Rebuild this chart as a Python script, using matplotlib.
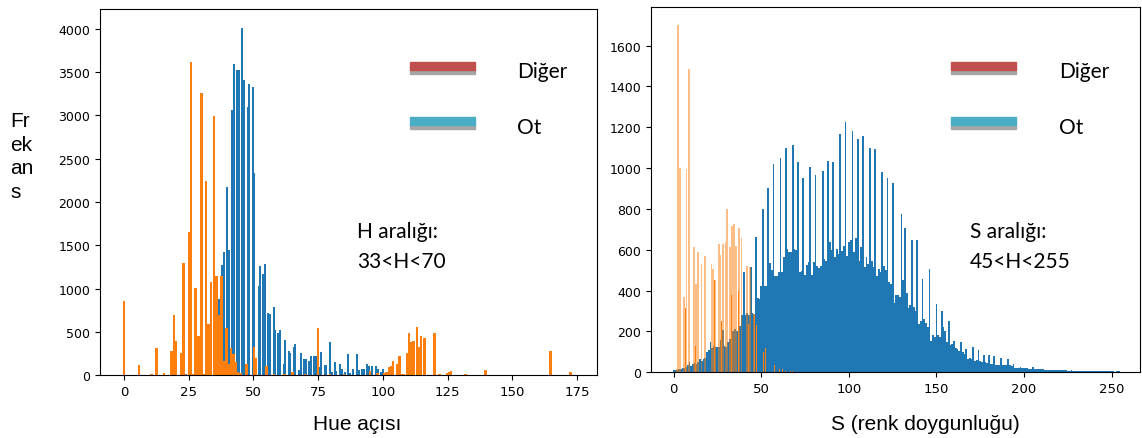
import matplotlib
matplotlib.use("Agg")
import matplotlib.pyplot as plt
from matplotlib.patches import Rectangle

matplotlib.rcParams.update({
    "font.family": "DejaVu Sans",
    "xtick.labelsize": 9.5,
    "ytick.labelsize": 9,
})

BLUE = "#1f77b4"
ORANGE = "#ff7f0e"

# --- left panel: hue histogram (Ot = blue, Diger = orange)
hue_ot_pos = [24.0, 36.6, 38.0, 38.5, 39.9, 40.5, 41.8, 42.5, 43.8, 44.4, 45.7, 46.3,
              47.9, 48.5, 49.8, 50.4, 52.0, 52.6, 53.9, 54.5, 55.8, 56.4, 57.8, 58.4,
              59.7, 60.3, 61.7, 62.4, 63.7, 64.3, 65.6, 66.2, 67.6, 68.4, 69.6, 70.2,
              71.6, 72.2, 73.5, 74.2, 75.6, 76.2, 77.5, 78.2, 79.5, 80.2, 81.5, 82.1,
              83.5, 84.1, 85.4, 86.7, 87.3, 88.4, 90.0, 90.6, 91.8, 92.7, 94.0, 94.6,
              96.0, 97.5, 98.1, 99.2, 100.0, 102.3, 103.0]
hue_ot_cnt = [15, 880, 1270, 1420, 2170, 1450, 3060, 3600, 3530, 3530, 4010, 3410,
              3100, 3360, 3330, 2340, 1030, 1260, 1170, 1280, 720, 710, 790, 520,
              485, 525, 130, 410, 280, 255, 320, 360, 60, 260, 185, 185,
              165, 225, 225, 225, 90, 270, 110, 115, 380, 30, 145, 50,
              125, 70, 30, 245, 20, 70, 245, 60, 70, 70, 125, 100,
              100, 100, 70, 30, 70, 70, 100]

hue_diger_pos = [0.0, 5.8, 10.7, 12.6, 15.4, 18.4, 19.3, 20.0, 22.0, 23.0, 23.7, 25.2,
                 25.9, 26.8, 27.7, 28.9, 29.9, 30.8, 31.8, 32.7, 33.7, 34.8, 35.7, 36.8,
                 37.7, 38.6, 39.6, 40.5, 41.4, 42.3, 43.2, 44.1, 45.0, 47.3, 50.2, 51.1,
                 55.0, 58.0, 62.0, 65.1, 70.0, 74.9, 79.5, 85.0, 95.0, 98.0, 100.5, 101.5,
                 102.4, 103.2, 103.9, 105.4, 106.4, 107.2, 108.2, 109.4, 110.1, 110.9, 111.9, 113.1,
                 114.0, 114.7, 116.0, 119.9, 121.8, 124.7, 125.5, 126.3, 132.0, 139.7, 164.7, 172.4]
hue_diger_cnt = [860, 120, 15, 310, 25, 280, 690, 390, 250, 1300, 15, 1650,
                 3615, 15, 1010, 455, 3255, 15, 2240, 590, 1080, 2990, 1150, 690,
                 1150, 160, 540, 130, 310, 245, 145, 40, 25, 127, 320, 195,
                 100, 10, 10, 30, 10, 540, 15, 10, 50, 20, 20, 40,
                 90, 100, 165, 127, 216, 15, 15, 254, 482, 378, 397, 559,
                 320, 455, 424, 482, 15, 25, 35, 45, 15, 60, 281, 40]

# --- right panel: saturation histogram, Ot counts for S = 0..255
sat_ot_cnt = [
    10, 10, 12, 13, 15, 20, 20, 25, 35, 49, 30, 40, 45, 41, 50, 62,
    55, 65, 70, 101, 110, 147, 120, 130, 125, 122, 122, 160, 209, 130, 122, 150,
    163, 188, 200, 212, 204, 215, 228, 280, 490, 278, 290, 280, 514, 290, 286, 661,
    362, 360, 420, 800, 424, 420, 903, 534, 500, 1020, 473, 469, 490, 1050, 490, 563,
    1099, 604, 588, 590, 1115, 604, 600, 1029, 493, 498, 952, 478, 527, 539, 1004, 478,
    539, 968, 522, 508, 522, 988, 555, 545, 1035, 640, 600, 1029, 563, 604, 580, 1168,
    596, 620, 1228, 568, 637, 648, 1184, 588, 656, 1143, 547, 612, 1159, 514, 563, 530,
    1097, 547, 514, 1094, 473, 506, 490, 980, 522, 500, 950, 444, 430, 928, 340, 376,
    380, 370, 776, 454, 708, 387, 313, 330, 650, 318, 300, 650, 237, 250, 457, 261,
    240, 220, 506, 155, 180, 170, 335, 180, 170, 302, 220, 200, 150, 253, 131, 140,
    155, 118, 115, 105, 147, 98, 90, 114, 62, 70, 65, 122, 57, 60, 111, 55,
    52, 85, 49, 45, 82, 41, 40, 78, 33, 35, 34, 69, 36, 35, 33, 65,
    33, 30, 41, 20, 22, 20, 24, 20, 20, 18, 18, 17, 16, 24, 15, 14,
    15, 13, 13, 13, 12, 12, 12, 11, 11, 12, 10, 10, 10, 9, 10, 9,
    9, 8, 8, 9, 8, 8, 7, 8, 8, 7, 7, 8, 7, 6, 7, 6,
    6, 6, 5, 6, 5, 5, 5, 4, 5, 4, 4, 4, 3, 4, 5, 3,
]

sat_diger_pos = [1.9, 2.5, 3.4, 5.7, 7.3, 8.7, 11.5, 12.6, 13.8, 15.9, 17.7, 21.5,
                 22.5, 23.4, 25.7, 26.7, 28.2, 29.5, 30.4, 32.0, 33.3, 34.4, 35.7, 37.3,
                 38.6, 41.8, 43.7, 46.0]
sat_diger_cnt = [16, 1700, 1000, 370, 995, 1485, 615, 430, 590, 530, 570, 530,
                 505, 450, 630, 575, 630, 640, 800, 615, 715, 725, 620, 705,
                 655, 520, 515, 286]

# thin fully saturated orange bars
sat_diger2_pos = [6.7, 12.2, 23.4, 27.4, 33.0, 36.8, 41.8, 42.9, 46.2, 47.5, 48.7, 51.5,
                  52.5, 56.7, 57.6, 59.5, 60.5, 62.0, 64.0, 66.5, 68.0]
sat_diger2_cnt = [313, 130, 450, 250, 380, 400, 522, 237, 286, 232, 200, 98,
                  118, 46, 33, 16, 16, 13, 8, 8, 8]

hue_ticks = [0, 25, 50, 75, 100, 125, 150, 175]
hue_yticks = [0, 500, 1000, 1500, 2000, 2500, 3000, 3500, 4000]
sat_ticks = [0, 50, 100, 150, 200, 250]
sat_yticks = [0, 200, 400, 600, 800, 1000, 1200, 1400, 1600]

fig = plt.figure(figsize=(11.42, 4.39), dpi=100)
ax1 = fig.add_axes([0.0876, 0.1435, 0.4354, 0.8335])
ax2 = fig.add_axes([0.570, 0.150, 0.428, 0.832])

ax1.bar(hue_ot_pos, hue_ot_cnt, width=0.78, color=BLUE, linewidth=0)
ax1.bar(hue_diger_pos, hue_diger_cnt, width=0.95, color=ORANGE, linewidth=0)
ax1.set_xlim(-9.2, 182.8)
ax1.set_ylim(0, 4230)
ax1.set_xticks(hue_ticks)
ax1.set_yticks(hue_yticks)

ax2.bar(range(len(sat_ot_cnt)), sat_ot_cnt, width=1.0, color=BLUE, linewidth=0)
ax2.bar(sat_diger_pos, sat_diger_cnt, width=0.95, color=ORANGE, alpha=0.5, linewidth=0)
ax2.bar(sat_diger2_pos, sat_diger2_cnt, width=0.5, color=ORANGE, linewidth=0)
ax2.set_xlim(-13, 266)
ax2.set_ylim(0, 1790)
ax2.set_xticks(sat_ticks)
ax2.set_yticks(sat_yticks)

# legend boxes drawn like the original slide
for x0, tx in [(0.359, 0.4527), (0.8327, 0.9273)]:
    fig.patches.append(Rectangle((x0, 0.829), 0.0569, 0.0091, color="#A5A5A5",
                                 transform=fig.transFigure, figure=fig))
    fig.patches.append(Rectangle((x0, 0.838), 0.0569, 0.0182, color="#C0504D",
                                 transform=fig.transFigure, figure=fig))
    fig.patches.append(Rectangle((x0, 0.704), 0.0569, 0.0091, color="#A5A5A5",
                                 transform=fig.transFigure, figure=fig))
    fig.patches.append(Rectangle((x0, 0.713), 0.0569, 0.0182, color="#4BACC6",
                                 transform=fig.transFigure, figure=fig))
    fig.text(tx, 0.836, "Diğer", fontsize=15, family="Lato", va="center")
    fig.text(tx, 0.708, "Ot", fontsize=15, family="Lato", va="center")

fig.text(0.3126, 0.4715, "H aralığı:", fontsize=15, family="Lato", va="center")
fig.text(0.3126, 0.403, "33<H<70", fontsize=15, family="Lato", va="center")
fig.text(0.8494, 0.4715, "S aralığı:", fontsize=15, family="Lato", va="center")
fig.text(0.8494, 0.403, "45<H<255", fontsize=15, family="Lato", va="center")

fig.text(0.0088, 0.642, "Fr\nek\nan\ns", fontsize=15, family="Liberation Sans",
         va="center", ha="left", linespacing=1.3)
fig.text(0.3126, 0.032, "Hue açısı", fontsize=15, family="Liberation Sans",
         ha="center", va="center")
fig.text(0.810, 0.032, "S (renk doygunluğu)", fontsize=15, family="Liberation Sans",
         ha="center", va="center")

fig.savefig("out.png", dpi=100)
